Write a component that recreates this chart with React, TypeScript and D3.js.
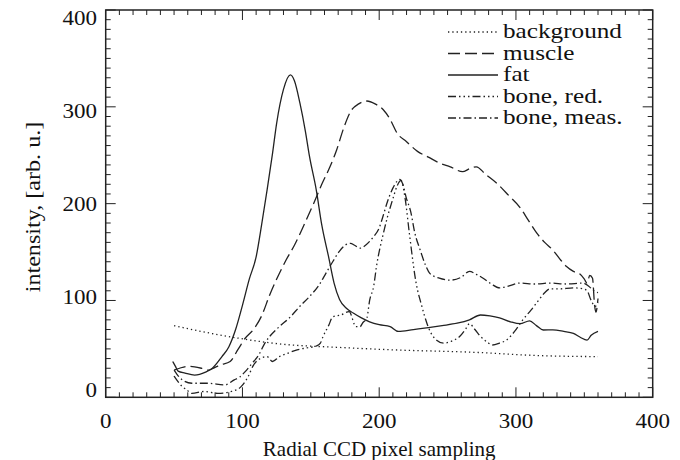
import React from "react";
import * as d3 from "d3";

type Pt = [number, number];

const xTicks = [0, 100, 200, 300, 400];
const yTicks = [0, 100, 200, 300, 400];
const xTitle = "Radial CCD pixel sampling";
const yTitle = "intensity, [arb. u.]";
const seriesNames = ["background", "muscle", "fat", "bone, red.", "bone, meas."];

const background: Pt[] = [[50,74],[70,68],[93,62],[128,55],[171,51.5],[210,49],[269,46.5],[318,43],[360,42]];

const muscle: Pt[] = [[50,28],[54,30],[60,32],[65,31.5],[70,30],[75,28],[80,31],[84,33.5],[91,37],[97,50],[102,61],[108,70],[114,84],[120,106],[126,125],[132,142],[138,157],[145,178],[152,200],[158,220],[164,238],[169,256],[174,278],[179,295],[185,303],[191,306],[197,303],[203,297],[208,287],[213,273],[220,264],[228,254],[236,248],[244,242],[252,238],[261,233],[266,236],[271,238],[278,230],[286,221],[295,208],[303,196],[309,183],[315,170],[321,160],[327,152],[332,143],[337,135],[342,130],[347,127],[350,122],[352,118],[354,126],[356,123],[357.5,95],[358.5,88],[360,102]];

const fat: Pt[] = [[49,37],[51,32],[53,27],[58,25],[65,23],[73,26],[78,30],[85,42],[90,52],[95,70],[100,95],[105,122],[110,145],[114,178],[118,214],[122,252],[125,283],[130,318],[135,333],[138,327],[142,304],[146,275],[149,249],[154,214],[158,178],[163,145],[167,118],[171,101],[176,92],[181,87],[187,82],[193,78],[200,75],[208,73],[214,68],[225,70],[236,72],[246,74],[257,76.5],[266,80],[274,85],[281,84],[288,82],[296,78],[303,76],[310,79],[315,74],[320,69.5],[327,69.6],[335,68],[342,66],[347,62],[352,59],[355,64],[360,68]];

const boneRed: Pt[] = [[50,22],[53,16],[56,11],[59,8],[63,4],[72,6],[82,4],[92,6],[99,11],[104,21],[108,33],[113,40],[118,42],[122,37],[127,42],[134,46],[140,49],[147,51],[154,53],[157,56],[159,63],[163,74],[166,83],[172,85],[178,88.5],[183,73],[186,73],[188,77],[191,82],[193,100],[196,115],[198,135],[203,169],[206,186],[210,205],[213,218],[216,224],[219,205],[222,170],[227,118],[231,95],[235,76],[238,66],[242,59],[247,56],[253,58],[259,63],[263,70],[266,76],[270,70],[274,63],[279,57],[283,54],[288,56],[293,59],[299,68],[305,80],[311,90],[317,101],[321,108],[325,112],[332,112],[342,113],[349,112],[352,110],[355,100],[358,94],[360,98]];

const boneMeas: Pt[] = [[50,28],[52,24],[56,18],[63,14.5],[75,14.5],[87,12.7],[94,18],[98,21],[102,26.5],[107,35],[112,44],[116,55],[120,63],[127,73],[135,83],[142,94],[149,104],[156,116],[161,128],[166,140],[171,151],[175,157],[179,159],[182,157],[186,154],[190,157],[193,161],[196,166],[200,175],[203,188],[206,202],[210,216],[213,223],[215,225],[217,221],[220,205],[223,192],[226,170],[230,152],[234,136],[237,128],[244,123],[252,121],[260,124],[266,130],[271,127],[276,123],[282,117],[288,113],[295,115],[303,118],[314,117],[325,118],[337,117],[349,118],[353,115],[357,110],[360,108]];

const seriesData = [background, muscle, fat, boneRed, boneMeas];
const dashes = ["1.3,3", "12,5", "none", "8,3,1.5,3,1.5,3,1.5,3", "8,3,1.5,3"];

const FONT = "'Liberation Serif', 'Times New Roman', serif";

export default function App() {
  const W = 680, H = 460;
  const L = 105.7, R = 652.7, T = 10, B = 397.3;
  const x = d3.scaleLinear().domain([0, 400]).range([L, R]);
  const y = d3.scaleLinear().domain([0, 400]).range([B, T]);
  const yLab = d3.scaleLinear().domain([0, 400]).range([390, 18]);
  const line = d3.line<Pt>().x(d => x(d[0])).y(d => y(d[1])).curve(d3.curveMonotoneX);
  const minor = d3.range(0, 401, 10);
  const ink = "#222";
  const sx = 1.15;

  return (
    <svg width={W} height={H} style={{ position: "absolute", left: 0, top: 0, background: "#fff" }} fontFamily={FONT}>
      <defs>
        <clipPath id="plot"><rect x={L} y={T} width={R - L} height={B - T} /></clipPath>
      </defs>
      <g clipPath="url(#plot)" fill="none" stroke={ink} strokeWidth={1.3}>
        {seriesData.map((s, i) => (
          <path key={i} d={line(s) || ""} strokeDasharray={dashes[i] === "none" ? undefined : dashes[i]} />
        ))}
      </g>
      <g stroke={ink} strokeWidth={1}>
        {minor.map(v => {
          const len = v % 100 === 0 ? 10 : 5;
          return (
            <g key={v}>
              <line x1={x(v)} x2={x(v)} y1={B} y2={B - len} />
              <line x1={x(v)} x2={x(v)} y1={T} y2={T + len} />
              <line x1={L} x2={L + len} y1={y(v)} y2={y(v)} />
              <line x1={R} x2={R - len} y1={y(v)} y2={y(v)} />
            </g>
          );
        })}
      </g>
      <rect x={L} y={T} width={R - L} height={B - T} fill="none" stroke={ink} strokeWidth={1.5} />
      <g fontSize={20} fill="#111">
        {xTicks.map(v => (
          <text key={v} transform={`translate(${x(v)},428) scale(${sx},1)`} textAnchor="middle">{v}</text>
        ))}
        {yTicks.map(v => (
          <text key={v} transform={`translate(97,${yLab(v)}) scale(${sx},1)`} dy="0.35em" textAnchor="end">{v}</text>
        ))}
      </g>
      <text x={(L + R) / 2} y={456} textAnchor="middle" fontSize={21} fill="#111">{xTitle}</text>
      <text transform={`translate(40,207) rotate(-90) scale(${sx},1)`} textAnchor="middle" fontSize={21} fill="#111">{yTitle}</text>
      <g>
        {seriesNames.map((n, i) => {
          const by = 38 + i * 21.5;
          return (
            <g key={n}>
              <line x1={448} x2={498} y1={by - 6} y2={by - 6} stroke={ink} strokeWidth={1.3}
                strokeDasharray={dashes[i] === "none" ? undefined : dashes[i]} />
              <text transform={`translate(503,${by}) scale(1.2,1)`} fontSize={21} fill="#111">{n}</text>
            </g>
          );
        })}
      </g>
    </svg>
  );
}
